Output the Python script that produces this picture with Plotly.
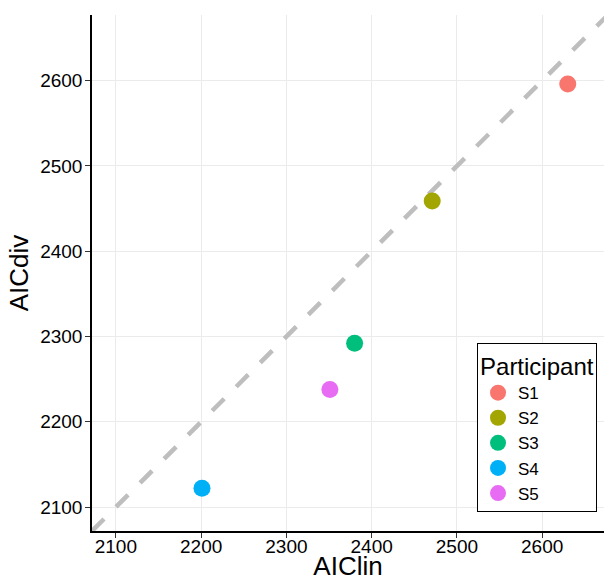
import plotly.graph_objects as go

participants = ["S1", "S2", "S3", "S4", "S5"]
aic_lin = [2630, 2471, 2380, 2201, 2351]
aic_div = [2596, 2459, 2292, 2122, 2238]
colors = ["#F8766D", "#A3A500", "#00BF7D", "#00B0F6", "#E76BF3"]
identity = [2072, 2800]
tick_vals = [2100, 2200, 2300, 2400, 2500, 2600]

FONT = "Liberation Sans, Arial, sans-serif"

fig = go.Figure()
fig.add_trace(go.Scatter(
    x=identity, y=identity, mode="lines", showlegend=False, hoverinfo="skip",
    line=dict(color="#BEBEBE", width=4.5, dash="17px,17px")))
for p, xv, yv, c in zip(participants, aic_lin, aic_div, colors):
    fig.add_trace(go.Scatter(
        x=[xv], y=[yv], mode="markers", name=p,
        marker=dict(color=c, size=17, line=dict(width=0))))

axis_common = dict(
    showgrid=True, gridcolor="#EBEBEB", gridwidth=1,
    showline=True, linecolor="black", linewidth=1.5,
    ticks="outside", ticklen=5, tickcolor="#333333", tickwidth=1,
    tickvals=tick_vals, tickfont=dict(family=FONT, size=19, color="black"),
    zeroline=False, automargin=False)

fig.update_layout(
    width=604, height=581,
    margin=dict(l=92, r=0, t=15, b=50),
    paper_bgcolor="white", plot_bgcolor="white",
    font=dict(family=FONT, color="black"),
    xaxis=dict(range=[2072, 2672.5], ticklabelstandoff=-8,
               title=dict(text="AIClin", font=dict(family=FONT, size=26), standoff=4), **axis_common),
    yaxis=dict(range=[2072, 2677], ticklabelstandoff=-1,
               title=dict(text="AICdiv", font=dict(family=FONT, size=26), standoff=4), **axis_common),
    legend=dict(
        title=dict(text="Participant", font=dict(family=FONT, size=24)),
        font=dict(family=FONT, size=17),
        x=0.752, xanchor="left", y=0.037, yanchor="bottom",
        bgcolor="white", bordercolor="black", borderwidth=1,
        tracegroupgap=0, itemwidth=30),
    showlegend=True,
)

fig.write_html("out.html", config={"displayModeBar": False},
               post_script="document.body.style.margin='0';")
